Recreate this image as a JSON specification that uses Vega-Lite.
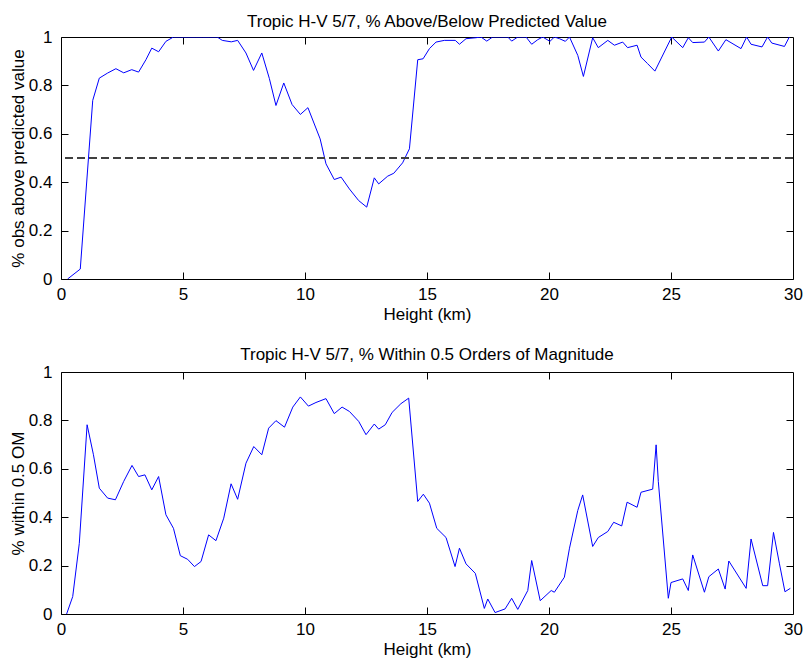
{
  "$schema": "https://vega.github.io/schema/vega-lite/v6.json",
  "padding": {"left": 8, "top": 12, "right": 0, "bottom": 0},
  "background": "white",
  "config": {
    "font": "Liberation Sans",
    "view": {"stroke": "black", "strokeWidth": 1},
    "axis": {
      "domain": false, "grid": false, "tickColor": "black", "tickSize": -7,
      "labelColor": "black", "labelFontSize": 17, "labelFont": "Liberation Sans",
      "titleFontSize": 17, "titleFontWeight": "normal", "titleColor": "black", "titleFont": "Liberation Sans"
    },
    "title": {"fontSize": 17, "fontWeight": "normal", "color": "black", "font": "Liberation Sans", "offset": -3}
  },
  "datasets": {
    "above": [
      {"height": 0.27, "value": 0}, {"height": 0.79, "value": 0.041}, {"height": 1.30, "value": 0.738},
      {"height": 1.57, "value": 0.830}, {"height": 1.91, "value": 0.851}, {"height": 2.25, "value": 0.869},
      {"height": 2.57, "value": 0.852}, {"height": 2.90, "value": 0.865}, {"height": 3.18, "value": 0.855},
      {"height": 3.48, "value": 0.906}, {"height": 3.72, "value": 0.954}, {"height": 4.00, "value": 0.939},
      {"height": 4.30, "value": 0.982}, {"height": 4.61, "value": 1.0}, {"height": 4.9, "value": 1.0},
      {"height": 5.2, "value": 1.0}, {"height": 5.5, "value": 1.0}, {"height": 5.8, "value": 1.0},
      {"height": 6.1, "value": 1.0}, {"height": 6.4, "value": 1.0}, {"height": 6.61, "value": 0.986},
      {"height": 6.98, "value": 0.980}, {"height": 7.24, "value": 0.986}, {"height": 7.58, "value": 0.934},
      {"height": 7.89, "value": 0.862}, {"height": 8.23, "value": 0.934}, {"height": 8.54, "value": 0.828},
      {"height": 8.81, "value": 0.717}, {"height": 9.13, "value": 0.810}, {"height": 9.47, "value": 0.721},
      {"height": 9.81, "value": 0.680}, {"height": 10.12, "value": 0.708}, {"height": 10.43, "value": 0.628},
      {"height": 10.62, "value": 0.579}, {"height": 10.86, "value": 0.476}, {"height": 11.20, "value": 0.411},
      {"height": 11.48, "value": 0.421}, {"height": 11.82, "value": 0.372}, {"height": 12.20, "value": 0.324},
      {"height": 12.53, "value": 0.297}, {"height": 12.84, "value": 0.418}, {"height": 13.02, "value": 0.393},
      {"height": 13.39, "value": 0.425}, {"height": 13.64, "value": 0.437}, {"height": 14.00, "value": 0.480},
      {"height": 14.28, "value": 0.538}, {"height": 14.62, "value": 0.906}, {"height": 14.84, "value": 0.910},
      {"height": 15.10, "value": 0.952}, {"height": 15.37, "value": 0.979}, {"height": 15.71, "value": 0.986},
      {"height": 16.16, "value": 0.986}, {"height": 16.33, "value": 0.970}, {"height": 16.60, "value": 0.993},
      {"height": 17.01, "value": 0.997}, {"height": 17.21, "value": 1.0}, {"height": 17.45, "value": 0.983},
      {"height": 17.69, "value": 1.0}, {"height": 18.00, "value": 1.0}, {"height": 18.31, "value": 1.0},
      {"height": 18.47, "value": 0.983}, {"height": 18.72, "value": 1.0}, {"height": 19.06, "value": 1.0},
      {"height": 19.29, "value": 0.970}, {"height": 19.54, "value": 0.989}, {"height": 19.74, "value": 1.0},
      {"height": 20.04, "value": 0.982}, {"height": 20.22, "value": 1.0}, {"height": 20.43, "value": 0.993},
      {"height": 20.67, "value": 0.982}, {"height": 20.84, "value": 1.0}, {"height": 21.18, "value": 0.924},
      {"height": 21.41, "value": 0.837}, {"height": 21.79, "value": 0.997}, {"height": 22.02, "value": 0.956},
      {"height": 22.41, "value": 0.986}, {"height": 22.68, "value": 0.966}, {"height": 23.02, "value": 0.979},
      {"height": 23.22, "value": 0.956}, {"height": 23.61, "value": 0.966}, {"height": 23.77, "value": 0.917},
      {"height": 24.04, "value": 0.890}, {"height": 24.34, "value": 0.859}, {"height": 25.03, "value": 1.0},
      {"height": 25.48, "value": 0.956}, {"height": 25.71, "value": 0.997}, {"height": 25.89, "value": 0.977},
      {"height": 26.37, "value": 0.979}, {"height": 26.55, "value": 1.0}, {"height": 26.94, "value": 0.942},
      {"height": 27.25, "value": 0.989}, {"height": 27.87, "value": 0.952}, {"height": 28.10, "value": 1.0},
      {"height": 28.28, "value": 0.970}, {"height": 28.73, "value": 0.959}, {"height": 28.96, "value": 1.0},
      {"height": 29.13, "value": 0.975}, {"height": 29.65, "value": 0.961}, {"height": 29.85, "value": 1.0}
    ],
    "within": [
      {"height": 0.23, "value": 0}, {"height": 0.48, "value": 0.072}, {"height": 0.75, "value": 0.292},
      {"height": 1.07, "value": 0.782}, {"height": 1.33, "value": 0.658}, {"height": 1.57, "value": 0.520},
      {"height": 1.91, "value": 0.479}, {"height": 2.23, "value": 0.472}, {"height": 2.57, "value": 0.548},
      {"height": 2.91, "value": 0.614}, {"height": 3.18, "value": 0.568}, {"height": 3.44, "value": 0.575},
      {"height": 3.72, "value": 0.513}, {"height": 4.00, "value": 0.568}, {"height": 4.30, "value": 0.410},
      {"height": 4.61, "value": 0.354}, {"height": 4.89, "value": 0.241}, {"height": 5.19, "value": 0.226},
      {"height": 5.47, "value": 0.196}, {"height": 5.74, "value": 0.217}, {"height": 6.05, "value": 0.327},
      {"height": 6.35, "value": 0.303}, {"height": 6.67, "value": 0.396}, {"height": 6.97, "value": 0.538},
      {"height": 7.24, "value": 0.474}, {"height": 7.58, "value": 0.623}, {"height": 7.90, "value": 0.692},
      {"height": 8.23, "value": 0.658}, {"height": 8.51, "value": 0.768}, {"height": 8.81, "value": 0.799},
      {"height": 9.16, "value": 0.772}, {"height": 9.50, "value": 0.855}, {"height": 9.81, "value": 0.897},
      {"height": 10.14, "value": 0.859}, {"height": 10.45, "value": 0.874}, {"height": 10.86, "value": 0.890},
      {"height": 11.20, "value": 0.828}, {"height": 11.52, "value": 0.855}, {"height": 11.82, "value": 0.837},
      {"height": 12.20, "value": 0.796}, {"height": 12.50, "value": 0.741}, {"height": 12.84, "value": 0.785},
      {"height": 13.02, "value": 0.764}, {"height": 13.29, "value": 0.782}, {"height": 13.57, "value": 0.833},
      {"height": 13.93, "value": 0.869}, {"height": 14.25, "value": 0.892}, {"height": 14.62, "value": 0.465},
      {"height": 14.85, "value": 0.495}, {"height": 15.10, "value": 0.458}, {"height": 15.40, "value": 0.354},
      {"height": 15.78, "value": 0.316}, {"height": 16.15, "value": 0.196}, {"height": 16.33, "value": 0.272},
      {"height": 16.60, "value": 0.207}, {"height": 16.98, "value": 0.168}, {"height": 17.35, "value": 0.023},
      {"height": 17.49, "value": 0.062}, {"height": 17.79, "value": 0.006}, {"height": 18.20, "value": 0.021},
      {"height": 18.47, "value": 0.065}, {"height": 18.72, "value": 0.019}, {"height": 19.13, "value": 0.097},
      {"height": 19.29, "value": 0.221}, {"height": 19.64, "value": 0.055}, {"height": 20.09, "value": 0.097},
      {"height": 20.22, "value": 0.090}, {"height": 20.63, "value": 0.152}, {"height": 20.84, "value": 0.272},
      {"height": 21.18, "value": 0.428}, {"height": 21.38, "value": 0.492}, {"height": 21.79, "value": 0.279},
      {"height": 22.02, "value": 0.316}, {"height": 22.41, "value": 0.341}, {"height": 22.65, "value": 0.379},
      {"height": 22.98, "value": 0.364}, {"height": 23.20, "value": 0.462}, {"height": 23.61, "value": 0.441},
      {"height": 23.77, "value": 0.503}, {"height": 24.25, "value": 0.516}, {"height": 24.39, "value": 0.699},
      {"height": 24.48, "value": 0.548}, {"height": 24.89, "value": 0.065}, {"height": 25.00, "value": 0.130},
      {"height": 25.48, "value": 0.145}, {"height": 25.71, "value": 0.097}, {"height": 25.89, "value": 0.244},
      {"height": 26.37, "value": 0.090}, {"height": 26.55, "value": 0.154}, {"height": 26.94, "value": 0.186},
      {"height": 27.22, "value": 0.103}, {"height": 27.37, "value": 0.219}, {"height": 28.08, "value": 0.106},
      {"height": 28.28, "value": 0.310}, {"height": 28.76, "value": 0.117}, {"height": 28.96, "value": 0.117},
      {"height": 29.20, "value": 0.337}, {"height": 29.44, "value": 0.210}, {"height": 29.67, "value": 0.092},
      {"height": 29.89, "value": 0.106}
    ]
  },
  "spacing": 22,
  "vconcat": [
    {
      "width": 732, "height": 242,
      "title": {"text": "Tropic H-V 5/7, % Above/Below Predicted Value", "anchor": "middle", "frame": "group"},
      "data": {"name": "above"},
      "resolve": {"axis": {"x": "independent", "y": "independent"}},
      "layer": [
        {
          "mark": {"type": "line", "color": "#0000ff", "strokeWidth": 1, "clip": true},
          "encoding": {
            "x": {"field": "height", "type": "quantitative", "scale": {"domain": [0, 30], "nice": false},
                  "axis": {"title": "Height (km)", "values": [0, 5, 10, 15, 20, 25, 30], "labelFlush": false, "labelPadding": 14, "titlePadding": 4.5}},
            "y": {"field": "value", "type": "quantitative", "scale": {"domain": [0, 1], "nice": false},
                  "axis": {"title": "% obs above predicted value", "values": [0, 0.2, 0.4, 0.6, 0.8, 1], "format": "~g", "labelPadding": 16, "titlePadding": 1}}
          }
        },
        {
          "mark": {"type": "rule", "color": "#404040", "strokeDash": [8, 4], "strokeWidth": 1},
          "encoding": {"y": {"datum": 0.5, "axis": null}}
        },
        {
          "mark": {"type": "line", "opacity": 0},
          "encoding": {
            "x": {"field": "height", "type": "quantitative", "axis": {"orient": "top", "labels": false, "title": null, "values": [5, 10, 15, 20, 25]}},
            "y": {"field": "value", "type": "quantitative", "axis": {"orient": "right", "labels": false, "title": null, "values": [0.2, 0.4, 0.6, 0.8]}}
          }
        }
      ]
    },
    {
      "width": 732, "height": 242,
      "title": {"text": "Tropic H-V 5/7, % Within 0.5 Orders of Magnitude", "anchor": "middle", "frame": "group", "offset": -1},
      "data": {"name": "within"},
      "resolve": {"axis": {"x": "independent", "y": "independent"}},
      "layer": [
        {
          "mark": {"type": "line", "color": "#0000ff", "strokeWidth": 1, "clip": true},
          "encoding": {
            "x": {"field": "height", "type": "quantitative", "scale": {"domain": [0, 30], "nice": false},
                  "axis": {"title": "Height (km)", "values": [0, 5, 10, 15, 20, 25, 30], "labelFlush": false, "labelPadding": 14, "titlePadding": 4.5}},
            "y": {"field": "value", "type": "quantitative", "scale": {"domain": [0, 1], "nice": false},
                  "axis": {"title": "% within 0.5 OM", "values": [0, 0.2, 0.4, 0.6, 0.8, 1], "format": "~g", "labelPadding": 16, "titlePadding": 1}}
          }
        },
        {
          "mark": {"type": "line", "opacity": 0},
          "encoding": {
            "x": {"field": "height", "type": "quantitative", "axis": {"orient": "top", "labels": false, "title": null, "values": [5, 10, 15, 20, 25]}},
            "y": {"field": "value", "type": "quantitative", "axis": {"orient": "right", "labels": false, "title": null, "values": [0.2, 0.4, 0.6, 0.8]}}
          }
        }
      ]
    }
  ]
}
